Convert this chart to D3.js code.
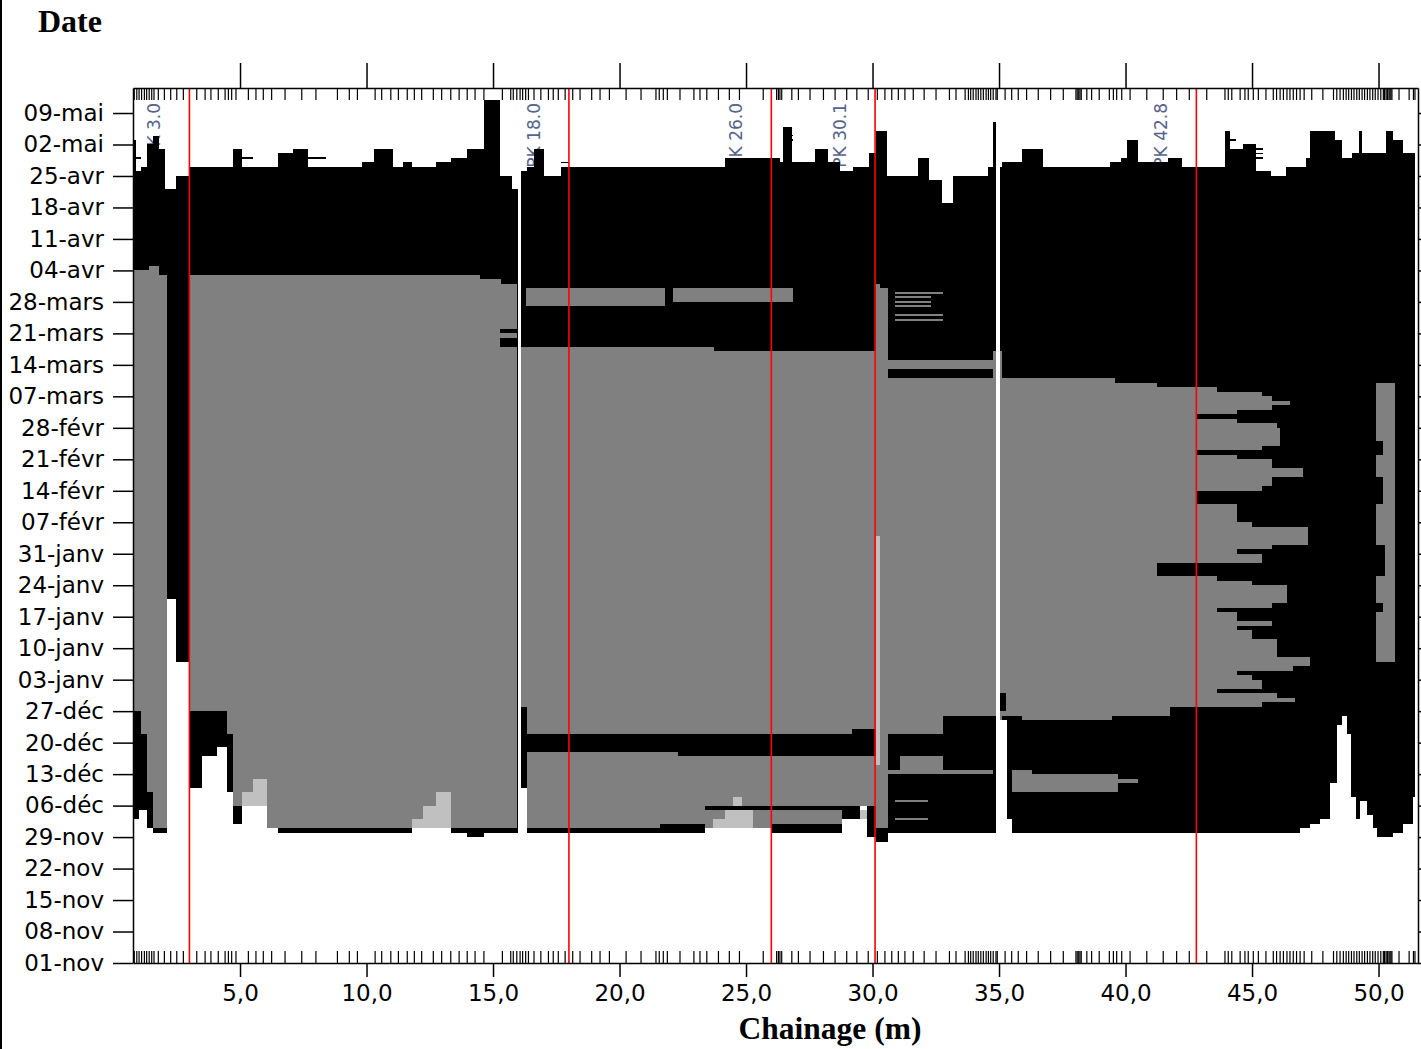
<!DOCTYPE html>
<html>
<head>
<meta charset="utf-8">
<script src="https://cdn.jsdelivr.net/npm/d3@7"></script>
<style>
  body { margin: 0; background: #fff; }
  svg { display: block; }
</style>
</head>
<body>
<svg id="chart" width="1421" height="1049"></svg>
<script>
// --- data (chainage in m, dates as MM-DD, season nov 2010 -> mai 2011) ---
const monthNames = ["janv", "févr", "mars", "avr", "mai", "juin", "juil", "août", "sept", "oct", "nov", "déc"];
const redLines = [3.0, 18.0, 26.0, 30.1, 42.8];
const majorTicks = [5, 10, 15, 20, 25, 30, 35, 40, 45, 50];

// measuring stations (minor ticks top & bottom)
const stations = [0.82,0.92,1.01,1.11,1.22,1.31,1.41,1.51,1.60,1.77,2.01,2.26,2.50,2.76,3.29,3.62,3.85,4.14,4.41,4.54,4.67,4.84,5.33,5.63,5.92,6.25,6.78,7.44,8.00,8.85,9.32,9.64,10.34,10.60,10.96,11.26,11.61,11.89,12.18,12.64,12.97,13.33,13.66,13.98,14.29,14.64,15.37,15.70,15.80,15.94,16.07,16.17,16.29,16.40,16.62,16.89,17.19,17.38,17.58,17.85,18.15,18.44,18.90,19.23,19.60,20.26,20.85,21.44,21.57,21.73,21.89,22.39,22.94,23.18,23.45,23.91,24.34,24.74,25.68,26.21,26.28,26.34,26.41,26.81,27.07,27.53,28.06,28.52,28.98,29.38,29.83,30.19,30.49,30.76,31.02,31.28,31.61,32.04,32.51,33.04,33.30,33.66,33.79,33.88,33.98,34.09,34.18,34.28,34.38,34.49,34.58,34.67,34.77,34.88,34.93,35.24,35.50,35.76,36.09,36.55,37.04,37.54,38.04,38.09,38.15,38.20,38.25,38.47,38.66,38.96,39.36,39.52,39.65,39.85,40.18,40.84,41.49,42.02,42.52,43.21,43.93,44.06,44.20,44.53,44.72,44.85,45.05,45.25,45.55,45.84,45.97,46.11,46.24,46.38,46.50,46.63,46.76,46.90,47.06,47.36,47.80,48.22,48.35,48.48,48.61,48.72,48.82,48.93,49.03,49.14,49.24,49.35,49.45,49.56,49.66,49.77,49.87,49.98,50.09,50.19,50.24,50.30,50.35,50.41,50.45,50.49,50.53,50.81,51.21,51.38,51.44];

// step profiles: [chainage from, date] valid until next chainage; last entry closes the profile
const blackTop = [[0.77,"05-03"],[0.89,"04-26"],[1.09,"04-27"],[1.32,"05-02"],[1.56,"05-04"],[1.80,"05-01"],[2.04,"04-22"],[2.47,"04-25"],[2.98,"04-27"],[4.72,"05-01"],[5.08,"04-27"],[6.50,"04-30"],[7.09,"05-01"],[7.69,"04-27"],[9.82,"04-28"],[10.30,"05-01"],[11.05,"04-27"],[11.44,"04-28"],[11.80,"04-27"],[12.75,"04-28"],[13.34,"04-29"],[13.97,"05-01"],[14.64,"05-12"],[15.28,"04-25"],[15.75,"04-22"],[16.11,"04-26"],[16.34,"04-27"],[16.62,"05-01"],[17.02,"04-25"],[17.69,"04-27"],[24.17,"04-29"],[26.34,"04-28"],[26.46,"05-06"],[26.82,"04-28"],[27.73,"05-01"],[28.24,"04-28"],[28.72,"04-26"],[29.23,"04-27"],[29.86,"04-30"],[30.14,"05-05"],[30.57,"04-25"],[31.80,"04-29"],[32.23,"04-24"],[32.75,"04-19"],[33.18,"04-25"],[34.57,"04-27"],[34.76,"05-07"],[34.92,"04-27"],[35.12,"04-28"],[35.91,"05-01"],[36.74,"04-27"],[39.39,"04-28"],[39.82,"04-29"],[40.06,"05-03"],[40.49,"04-28"],[41.68,"04-29"],[42.23,"04-27"],[43.93,"05-05"],[44.13,"05-01"],[44.64,"05-02"],[45.16,"04-26"],[45.75,"04-25"],[46.34,"04-27"],[47.13,"04-29"],[47.29,"05-05"],[48.28,"05-03"],[48.56,"04-29"],[48.95,"04-30"],[49.23,"05-05"],[49.35,"04-30"],[50.30,"05-05"],[50.57,"05-03"],[50.97,"04-30"],[51.45,null]];

const grayTop = [[0.77,"04-04"],[1.41,"04-05"],[1.80,"04-03"],[2.11,null],[2.98,"04-03"],[14.5,"04-02"],[15.3,"04-01"],[15.95,null],[16.11,"03-18"],[23.74,"03-17"],[30.14,"04-01"],[30.30,"03-31"],[30.61,"03-15"],[34.76,"03-17"],[35.12,"03-11"],[39.58,"03-10"],[41.25,"03-09"],[42.83,null],[51.45,null]];

const grayBottom = [[0.77,"12-27"],[1.09,"12-22"],[1.32,"12-09"],[1.56,"12-01"],[2.11,null],[2.98,"12-27"],[4.49,"12-22"],[4.72,"12-06"],[5.08,null],[6.50,"12-01"],[15.95,null],[16.11,"12-28"],[16.34,"12-01"],[21.6,"12-02"],[23.38,"12-01"],[26.03,"12-06"],[30.14,"12-01"],[30.61,"12-22"],[32.79,"12-26"],[34.92,null],[35.12,"12-26"],[35.91,"12-25"],[39.47,"12-26"],[41.76,"12-28"],[42.83,null],[51.45,null]];

const whiteTop = [[0.77,"12-03"],[1.0,"12-05"],[1.32,"12-01"],[1.56,"11-30"],[2.11,"01-21"],[2.47,"01-07"],[2.98,"12-10"],[3.50,"12-17"],[4.09,"12-19"],[4.49,"12-09"],[4.72,"12-02"],[5.08,"12-06"],[6.07,"12-01"],[6.50,"11-30"],[11.80,"12-01"],[13.34,"11-30"],[13.97,"11-29"],[14.64,"11-30"],[16.11,"12-10"],[16.34,"11-30"],[23.38,"12-01"],[26.03,"11-30"],[28.79,"12-03"],[29.5,"12-06"],[29.8,"11-29"],[30.14,"11-28"],[30.61,"11-30"],[34.92,"12-25"],[35.32,"12-03"],[35.5,"11-30"],[46.9,"12-01"],[47.29,"12-02"],[47.69,"12-03"],[48.08,"12-11"],[48.36,"12-24"],[48.56,"12-26"],[48.75,"12-22"],[48.91,"12-08"],[49.11,"12-03"],[49.27,"12-07"],[49.55,"12-04"],[49.78,"12-01"],[49.94,"11-29"],[50.57,"11-30"],[50.97,"12-02"],[51.36,"12-08"],[51.56,null]];

// rectangles: [chainage from, chainage to, date from, date to]
const grayBands = [[16.30,21.80,"03-27","03-31"],[22.11,26.86,"03-28","03-31"],[25.28,28.79,"12-02","12-05"],[30.61,34.76,"12-13","12-14"],[31.1,32.8,"12-14","12-17"],[35.5,39.7,"12-09","12-13"],[35.5,36.3,"12-13","12-14"],[39.7,40.5,"12-11","12-12"],[49.9,50.65,"01-07","03-10"]];

const blackBands = [[15.28,15.95,"03-21","03-22"],[15.28,15.95,"03-18","03-20"],[16.34,22.3,"12-18","12-22"],[22.3,29.2,"12-17","12-22"],[29.2,30.14,"12-17","12-23"],[23.38,26.03,"12-05","12-06"],[30.61,34.76,"03-11","03-13"],[41.25,42.83,"01-26","01-29"],[35.02,35.28,"12-27","12-31"],[49.9,50.18,"02-22","02-25"],[49.9,50.18,"02-11","02-17"],[49.9,50.26,"01-26","02-02"],[49.9,50.18,"01-18","01-20"]];

const lightPatches = [[5.08,5.51,"12-06","12-09"],[5.51,6.07,"12-06","12-12"],[11.80,12.23,"12-01","12-03"],[12.23,12.75,"12-01","12-06"],[12.75,13.34,"12-01","12-09"],[23.70,24.17,"12-01","12-03"],[24.17,25.28,"12-01","12-05"],[24.49,24.84,"12-06","12-08"],[29.5,29.8,"12-03","12-05"],[30.14,30.30,"12-15","02-04"]];

// gray fingers beyond the 42.8 section: [date from, date to, chainage reached]
const fingerStart = 42.83;
const fingers = [["03-08","03-09",43.6],["03-07","03-08",45.4],["03-06","03-07",45.8],["03-05","03-06",46.5],["03-04","03-05",45.8],["03-03","03-04",44.4],["03-01","03-02",44.4],["02-28","03-01",46.0],["02-24","02-28",46.1],["02-23","02-24",45.4],["02-21","02-22",44.4],["02-19","02-21",45.8],["02-17","02-19",47.0],["02-15","02-17",45.8],["02-14","02-15",45.4],["02-07","02-11",44.4],["02-06","02-07",45.0],["02-02","02-06",47.2],["02-01","02-02",45.8],["01-31","02-01",44.4],["01-29","01-31",45.4],["01-25","01-26",43.6],["01-24","01-25",45.0],["01-20","01-24",46.4],["01-19","01-20",45.8],["01-18","01-19",43.6],["01-16","01-18",44.4],["01-15","01-16",45.8],["01-14","01-15",44.4],["01-12","01-14",45.0],["01-08","01-12",46.0],["01-06","01-08",47.3],["01-05","01-06",46.6],["01-04","01-05",44.4],["01-03","01-04",45.0],["01-01","01-03",45.4],["12-31","01-01",43.6],["12-30","12-31",46.0],["12-29","12-30",46.7],["12-28","12-29",45.4]];

// thin gray lines: [chainage from, chainage to, date]
const thinLines = [[30.89,32.79,"03-30"],[30.89,32.31,"03-29"],[30.89,32.31,"03-28"],[30.89,32.31,"03-27"],[30.89,32.79,"03-25"],[30.89,32.79,"03-24"],[30.89,32.2,"12-07"],[30.89,32.2,"12-03"]];
// short black dashes above the profile
const topDashes = [[0.89,1.09,"04-29"],[5.08,5.51,"04-29"],[7.69,8.4,"04-29"],[17.69,18.0,"04-28"],[26.6,26.85,"05-04"],[26.6,26.85,"05-03"],[44.13,44.35,"05-03"],[45.16,45.42,"05-01"],[45.16,45.42,"04-30"],[45.16,45.42,"04-29"]];
// white gaps through the whole record
const whiteLines = [[15.97,16.09],[34.90,35.02]];

// --- layout ---
const mLeft = 133, mRight = 1418, mTop = 88, mBottom = 963;
const svg = d3.select("#chart");

const parseDay = s => {
  const [m, d] = s.split("-").map(Number);
  return new Date(m >= 10 ? 2010 : 2011, m - 1, d);
};

const x = d3.scaleLinear().domain([0.77, 51.56]).range([mLeft, mRight]);
const y = d3.scaleTime()
  .domain([new Date(2010, 10, 1), new Date(2011, 4, 14, 13, 30)])
  .range([mBottom, mTop]);

function steps(profile) {
  let pts = [];
  profile.forEach((p, i) => {
    if (i === profile.length - 1) return;
    pts.push({ c: p[0], d: p[1] }, { c: profile[i + 1][0], d: p[1] });
  });
  return pts;
}

let area = d3.area()
  .defined(p => p.d != null)
  .x(p => x(p.c))
  .y0(mBottom)
  .y1(p => y(parseDay(p.d)));

// PK labels sit under the fill
svg.append("g").selectAll("text")
  .data(redLines)
  .join("text")
  .attr("transform", d => `translate(${x(d) - 29},103) rotate(-90)`)
  .attr("text-anchor", "end")
  .attr("font-family", "DejaVu Sans")
  .attr("font-size", 17)
  .attr("fill", "#56638a")
  .text(d => "PK " + d.toFixed(1));

const plot = svg.append("g").attr("shape-rendering", "crispEdges");

plot.append("path").attr("d", area(steps(blackTop))).attr("fill", "#000");
plot.append("path").attr("d", area(steps(grayTop))).attr("fill", "#808080");
plot.append("path").attr("d", area(steps(grayBottom))).attr("fill", "#000");
plot.append("path").attr("d", area(steps(whiteTop))).attr("fill", "#fff");

function bands(data, fill) {
  plot.append("g").selectAll("rect")
    .data(data)
    .join("rect")
    .attr("x", d => x(d[0]))
    .attr("width", d => x(d[1]) - x(d[0]))
    .attr("y", d => y(parseDay(d[3])))
    .attr("height", d => y(parseDay(d[2])) - y(parseDay(d[3])))
    .attr("fill", fill);
}

bands(grayBands, "#808080");

plot.append("g").selectAll("rect")
  .data(fingers)
  .join("rect")
  .attr("x", x(fingerStart))
  .attr("width", d => x(d[2]) - x(fingerStart))
  .attr("y", d => y(parseDay(d[1])))
  .attr("height", d => y(parseDay(d[0])) - y(parseDay(d[1])))
  .attr("fill", "#808080");

bands(blackBands, "#000");
bands(lightPatches, "#c0c0c0");

plot.append("g").selectAll("line")
  .data(thinLines)
  .join("line")
  .attr("x1", d => x(d[0])).attr("x2", d => x(d[1]))
  .attr("y1", d => y(parseDay(d[2]))).attr("y2", d => y(parseDay(d[2])))
  .attr("stroke", "#808080").attr("stroke-width", 2);

plot.append("g").selectAll("rect")
  .data(whiteLines)
  .join("rect")
  .attr("x", d => x(d[0]))
  .attr("width", d => x(d[1]) - x(d[0]))
  .attr("y", mTop + 13)
  .attr("height", mBottom - mTop - 13)
  .attr("fill", "#fff");

plot.append("g").selectAll("line")
  .data(topDashes)
  .join("line")
  .attr("x1", d => x(d[0])).attr("x2", d => x(d[1]))
  .attr("y1", d => y(parseDay(d[2]))).attr("y2", d => y(parseDay(d[2])))
  .attr("stroke", "#000").attr("stroke-width", 1.5);

// red section lines
svg.append("g").selectAll("line")
  .data(redLines)
  .join("line")
  .attr("x1", d => x(d)).attr("x2", d => x(d))
  .attr("y1", mTop).attr("y2", mBottom)
  .attr("stroke", "#ff0000")
  .attr("stroke-width", 1.6);

// --- axes ---
const dateTicks = d3.range(0, 190, 7).map(k => d3.timeDay.offset(new Date(2010, 10, 1), k));
const fmtDate = d => d3.timeFormat("%d")(d) + "-" + monthNames[d.getMonth()];
const fmtKm = d => d.toFixed(1).replace(".", ",");

function styleAxis(g) {
  g.select(".domain").attr("stroke", "#000").attr("stroke-width", 1.5);
  g.selectAll(".tick line").attr("stroke", "#000").attr("stroke-width", 1.5);
  g.selectAll(".tick text")
    .attr("fill", "#000")
    .attr("font-family", "DejaVu Sans")
    .attr("font-size", 23);
}

svg.append("g")
  .attr("transform", `translate(${mLeft},0)`)
  .call(d3.axisLeft(y).tickValues(dateTicks).tickFormat(fmtDate).tickSize(20).tickSizeOuter(0).tickPadding(9))
  .call(styleAxis);

svg.append("g")
  .attr("transform", `translate(${mRight},0)`)
  .call(d3.axisRight(y).tickValues(dateTicks).tickFormat("").tickSize(5).tickSizeOuter(0))
  .call(styleAxis);

svg.append("g")
  .attr("transform", `translate(0,${mBottom})`)
  .call(d3.axisBottom(x).tickValues(majorTicks).tickFormat(fmtKm).tickSize(14).tickSizeOuter(0).tickPadding(8))
  .call(styleAxis);

svg.append("g")
  .attr("transform", `translate(0,${mTop})`)
  .call(d3.axisTop(x).tickValues(majorTicks).tickFormat("").tickSize(25).tickSizeOuter(0))
  .call(styleAxis);

// station ticks
svg.append("g").selectAll("line")
  .data(stations)
  .join("line")
  .attr("x1", d => x(d)).attr("x2", d => x(d))
  .attr("y1", mTop).attr("y2", mTop + 12)
  .attr("stroke", "#000").attr("stroke-width", 1.2);

svg.append("g").selectAll("line")
  .data(stations)
  .join("line")
  .attr("x1", d => x(d)).attr("x2", d => x(d))
  .attr("y1", mBottom).attr("y2", mBottom - 12)
  .attr("stroke", "#000").attr("stroke-width", 1.2);

// frame line on the left edge
svg.append("line")
  .attr("x1", 1).attr("x2", 1).attr("y1", 0).attr("y2", 1049)
  .attr("stroke", "#000").attr("stroke-width", 2);

// titles
svg.append("text")
  .attr("x", 38).attr("y", 32)
  .attr("font-family", "Liberation Serif")
  .attr("font-weight", "bold")
  .attr("font-size", 32)
  .text("Date");

svg.append("text")
  .attr("x", 830).attr("y", 1039)
  .attr("text-anchor", "middle")
  .attr("font-family", "Liberation Serif")
  .attr("font-weight", "bold")
  .attr("font-size", 31.5)
  .text("Chainage (m)");
</script>
</body>
</html>
